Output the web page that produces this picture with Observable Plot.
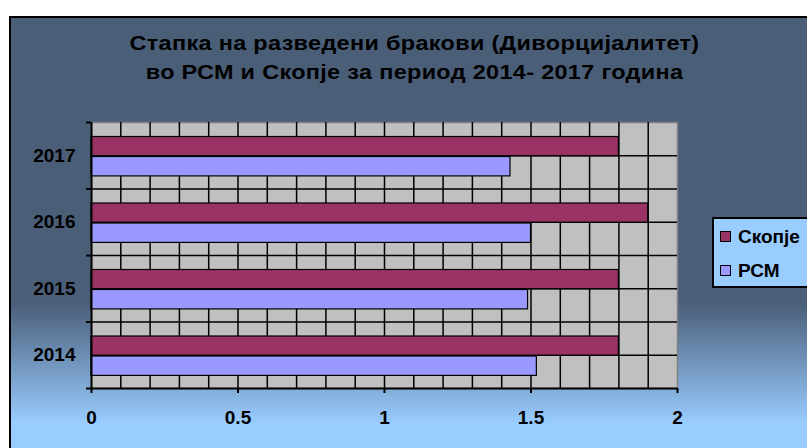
<!DOCTYPE html>
<html>
<head>
<meta charset="utf-8">
<script src="https://cdn.jsdelivr.net/npm/d3@7"></script>
<script src="https://cdn.jsdelivr.net/npm/@observablehq/plot@0.6"></script>
<style>
  html, body { margin: 0; padding: 0; background: #fff; }
  #wrap { position: relative; width: 807px; height: 448px; overflow: hidden; background: #fff;
          font-family: Arial, "Liberation Sans", sans-serif; }
  #bg { position: absolute; left: 9px; top: 16px; width: 830px; height: 460px; box-sizing: border-box;
        border: 2px solid #000;
        background: linear-gradient(to bottom, #4A5E78 0px, #4A5E78 285px, #99CCFF 405px, #99CCFF 460px); }
  #chart { position: relative; z-index: 1; }
  #title { height: 105px; box-sizing: border-box; padding-top: 28px; text-align: center;
           font-weight: bold; font-size: 21px; line-height: 29px; letter-spacing: 0.3px; color: #000;
           position: relative; left: 11px; transform: scaleX(1.115); transform-origin: 50% 0; }
  #legend { position: absolute; z-index: 2; left: 712px; top: 217px; width: 120px; height: 71px;
            box-sizing: border-box; border: 2px solid #000; background: #99CCFF; }
  .item { position: absolute; left: 6px; font-weight: bold; font-size: 19px; color: #000; line-height: 20px; }
  .sw { display: inline-block; width: 9px; height: 9px; border: 1px solid #000; margin-right: 7px; vertical-align: 1px; }
</style>
</head>
<body>
<div id="wrap">
  <div id="bg"></div>
  <div id="chart">
    <div id="title">Стапка на разведени бракови (Диворцијалитет)<br>во РСМ и Скопје за период 2014- 2017 година</div>
  </div>
  <div id="legend"></div>
</div>
<script>
const years = [2014, 2015, 2016, 2017];
const seriesNames = ["Скопје", "РСМ"];
const skopje = [1.80, 1.80, 1.90, 1.80];
const rsm = [1.52, 1.49, 1.50, 1.43];
const xTicks = [0, 0.5, 1, 1.5, 2];
const colors = ["#993366", "#9999FF"];

const skopjeRows = years.map((y, i) => ({year: y, series: seriesNames[0], value: skopje[i]}));
const rsmRows = years.map((y, i) => ({year: y, series: seriesNames[1], value: rsm[i]}));

const gridXs = d3.range(1, 20).map(i => i / 10);
const gridYs = d3.range(0, 7).map(i => 2014 + i / 2);
const bounds = d3.range(0, 5).map(i => 2013.5 + i);

const chart = Plot.plot({
  width: 807,
  height: 343,
  marginTop: 17,
  marginBottom: 60,
  marginLeft: 91,
  marginRight: 130,
  style: {background: "transparent", fontFamily: "Arial, 'Liberation Sans', sans-serif", fontSize: "19px", fontWeight: "bold", color: "#000", overflow: "visible"},
  x: {domain: [0, 2], label: null},
  y: {domain: [2013.5, 2017.5], label: null},
  marks: [
    Plot.frame({fill: "#C0C0C0", stroke: "#808080", strokeWidth: 1.5}),
    Plot.gridX(gridXs, {stroke: "#000", strokeOpacity: 1, strokeWidth: 1.5}),
    Plot.gridY(gridYs, {stroke: "#000", strokeOpacity: 1, strokeWidth: 1.5}),
    Plot.rectX(skopjeRows, {x1: 0, x2: "value", y1: d => d.year - 0.5, y2: d => d.year + 0.5,
      insetTop: 14.5, insetBottom: 32.8, fill: colors[0], stroke: "#000", strokeWidth: 1.2}),
    Plot.rectX(rsmRows, {x1: 0, x2: "value", y1: d => d.year - 0.5, y2: d => d.year + 0.5,
      insetTop: 34.5, insetBottom: 12.6, fill: colors[1], stroke: "#000", strokeWidth: 1.2}),
    Plot.ruleX([0], {stroke: "#000", strokeWidth: 2}),
    Plot.ruleY([2013.5], {stroke: "#000", strokeWidth: 2}),
    Plot.axisX(xTicks, {tickSize: 5, tickPadding: 17, tickFormat: d => String(d), stroke: "#000", strokeWidth: 2, fill: "#000", label: null}),
    Plot.axisY(bounds, {tickSize: 5, tickFormat: () => "", stroke: "#000", strokeWidth: 2, label: null}),
    Plot.axisY(years, {tickSize: 0, tickPadding: 16, tickFormat: d => String(d), fill: "#000", label: null})
  ]
});
document.getElementById("chart").appendChild(chart);

const legend = document.getElementById("legend");
[seriesNames[0], seriesNames[1]].forEach((name, i) => {
  const div = document.createElement("div");
  div.className = "item";
  div.style.top = (i === 0 ? 8 : 42) + "px";
  const sw = document.createElement("span");
  sw.className = "sw";
  sw.style.background = colors[i];
  div.appendChild(sw);
  div.appendChild(document.createTextNode(name));
  legend.appendChild(div);
});
</script>
</body>
</html>
